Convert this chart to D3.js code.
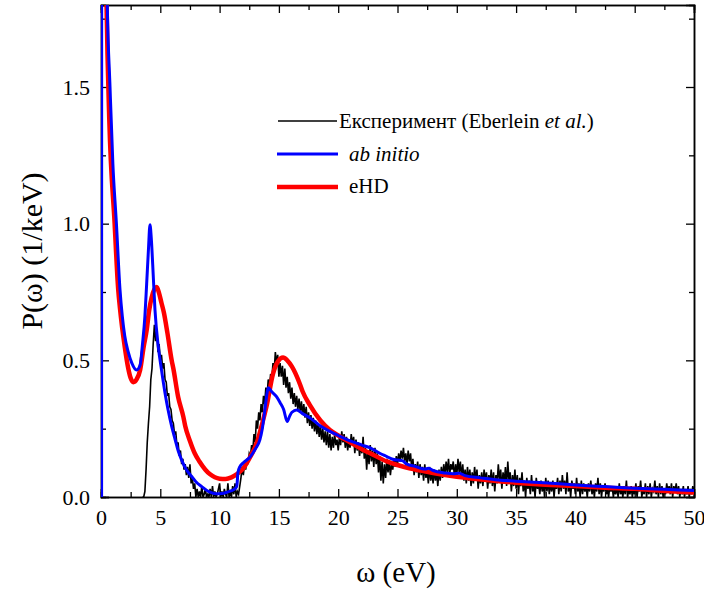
<!DOCTYPE html>
<html>
<head>
<meta charset="utf-8">
<script src="https://cdn.jsdelivr.net/npm/d3@7"></script>
</head>
<body style="margin:0">
<svg id="chart" width="704" height="590"></svg>
<script>
// ---------------- DATA ----------------
const xMajorTicks = [0, 5, 10, 15, 20, 25, 30, 35, 40, 45, 50];
const xMinorTicks = [2.5, 7.5, 12.5, 17.5, 22.5, 27.5, 32.5, 37.5, 42.5, 47.5];
const yMajorTicks = [0, 0.5, 1.0, 1.5];
const yMinorTicks = [0.25, 0.75, 1.25, 1.75];

const legendLabels = ["Експеримент (Eberlein ", "et al.", ")"];

// ab initio (blue) : energy (eV) and P (1/keV)
const abInitioOmega = [0.05, 0.06, 0.3, 0.53, 0.76, 1.0, 1.3, 1.6, 1.8, 2.0, 2.3, 2.6, 3.0, 3.3, 3.5, 3.7, 3.85, 4.0, 4.13, 4.25, 4.36, 4.55, 4.83, 5.1, 5.4, 5.65, 5.95, 6.25, 6.5, 6.8, 7.2, 7.65, 8.0, 8.5, 9.0, 9.3, 9.7, 10.2, 10.6, 11.0, 11.3, 11.45, 11.55, 11.7, 12.0, 12.6, 13.0, 13.4, 13.6, 13.85, 14.0, 14.1, 14.4, 14.8, 15.1, 15.4, 15.7, 15.9, 16.1, 16.5, 17.0, 17.6, 18.5, 19.3, 20.0, 21.0, 22.0, 22.7, 23.5, 24.1, 24.6, 25.0, 25.4, 25.8, 26.5, 27.3, 27.6, 28.0, 29.0, 29.7, 30.2, 30.7, 32.0, 33.5, 35.0, 36.5, 38.0, 40.0, 42.5, 45.0, 47.5, 50.0];
const abInitioP     = [0.0, 3.5, 2.6, 1.8, 1.5, 1.22, 1.0, 0.76, 0.66, 0.59, 0.53, 0.49, 0.465, 0.483, 0.56, 0.66, 0.78, 0.905, 0.996, 0.94, 0.85, 0.685, 0.55, 0.465, 0.38, 0.32, 0.26, 0.21, 0.17, 0.135, 0.1, 0.075, 0.056, 0.038, 0.022, 0.016, 0.012, 0.013, 0.017, 0.023, 0.03, 0.04, 0.09, 0.11, 0.125, 0.148, 0.175, 0.21, 0.25, 0.33, 0.38, 0.40, 0.385, 0.367, 0.345, 0.32, 0.276, 0.295, 0.31, 0.318, 0.305, 0.29, 0.26, 0.24, 0.225, 0.205, 0.19, 0.18, 0.16, 0.148, 0.138, 0.135, 0.133, 0.12, 0.112, 0.102, 0.105, 0.097, 0.088, 0.085, 0.087, 0.078, 0.07, 0.062, 0.058, 0.054, 0.05, 0.044, 0.038, 0.032, 0.028, 0.024];

// eHD (red)
const eHDOmega = [0.3, 0.45, 0.7, 1.15, 1.45, 1.6, 2.0, 2.3, 2.5, 2.73, 3.0, 3.3, 3.6, 3.85, 4.05, 4.27, 4.5, 4.7, 4.9, 5.1, 5.3, 5.6, 5.96, 6.1, 6.5, 6.94, 7.1, 7.5, 7.9, 8.3, 8.8, 9.2, 9.6, 10.0, 10.5, 11.0, 11.5, 12.0, 12.5, 13.15, 13.6, 14.0, 14.5, 14.9, 15.35, 15.7, 16.1, 16.8, 17.0, 17.6, 18.5, 19.3, 20.0, 21.0, 22.0, 22.7, 24.1, 25.0, 26.0, 27.5, 28.0, 30.0, 32.5, 35.0, 37.5, 40.0, 42.5, 45.0, 47.5, 50.0];
const eHDP     = [2.4, 1.85, 1.38, 1.0, 0.76, 0.69, 0.55, 0.47, 0.435, 0.42, 0.43, 0.465, 0.55, 0.61, 0.68, 0.73, 0.76, 0.768, 0.745, 0.71, 0.675, 0.6, 0.5, 0.47, 0.367, 0.294, 0.26, 0.205, 0.16, 0.13, 0.1, 0.083, 0.072, 0.067, 0.066, 0.072, 0.085, 0.105, 0.14, 0.2, 0.27, 0.34, 0.45, 0.495, 0.51, 0.5, 0.477, 0.41, 0.386, 0.337, 0.28, 0.245, 0.225, 0.2, 0.175, 0.16, 0.13, 0.117, 0.105, 0.092, 0.088, 0.074, 0.062, 0.052, 0.045, 0.04, 0.034, 0.03, 0.022, 0.016];

// Experiment (black), sampled every 0.1 eV from 3.5 eV to 50.0 eV
const expStart = 3.5, expStep = 0.1;
const expP = [
  0, 0, 0.02, 0.1, 0.2,
  0.27, 0.33, 0.43, 0.47, 0.56, 0.63, 0.57, 0.61, 0.53, 0.56,
  0.5, 0.52, 0.47, 0.49, 0.43, 0.42, 0.37, 0.38, 0.33, 0.32,
  0.28, 0.27, 0.23, 0.24, 0.19, 0.2, 0.15, 0.17, 0.12, 0.14,
  0.1, 0.12, 0.08, 0.11, 0.07, 0.12, 0.05, 0.07, 0.03, 0.05,
  0, 0.03, 0, 0.02, 0, 0.04, 0, 0.01, 0.03, 0,
  0.01, 0, 0.03, 0, 0.04, 0, 0.02, 0, 0.01, 0.03,
  0.05, 0, 0.02, 0, 0.03, 0.01, 0, 0.05, 0, 0.02,
  0, 0.04, 0.01, 0.05, 0, 0.02, 0.01, 0.04, 0.07, 0.11,
  0.08, 0.12, 0.1, 0.14, 0.12, 0.16, 0.15, 0.19, 0.17, 0.23,
  0.2, 0.28, 0.25, 0.31, 0.28, 0.34, 0.31, 0.37, 0.34, 0.4,
  0.37, 0.43, 0.4, 0.45, 0.43, 0.49, 0.46, 0.53, 0.49, 0.52,
  0.44, 0.49, 0.44, 0.48, 0.41, 0.47, 0.4, 0.44, 0.38, 0.42,
  0.36, 0.4, 0.34, 0.38, 0.33, 0.37, 0.32, 0.36, 0.31, 0.35,
  0.3, 0.34, 0.29, 0.33, 0.27, 0.31, 0.26, 0.3, 0.25, 0.29,
  0.24, 0.28, 0.23, 0.27, 0.22, 0.26, 0.21, 0.25, 0.2, 0.24,
  0.19, 0.24, 0.18, 0.23, 0.17, 0.22, 0.18, 0.23, 0.19, 0.21,
  0.17, 0.22, 0.19, 0.24, 0.2, 0.23, 0.18, 0.22, 0.17, 0.21,
  0.18, 0.23, 0.19, 0.22, 0.16, 0.21, 0.17, 0.2, 0.15, 0.19,
  0.16, 0.22, 0.14, 0.18, 0.1, 0.17, 0.12, 0.19, 0.13, 0.17,
  0.11, 0.18, 0.12, 0.16, 0.09, 0.15, 0.06, 0.13, 0.05, 0.12,
  0.07, 0.14, 0.09, 0.13, 0.08, 0.12, 0.1, 0.14, 0.11, 0.15,
  0.12, 0.16, 0.13, 0.17, 0.14, 0.18, 0.13, 0.16, 0.12, 0.17,
  0.13, 0.16, 0.1, 0.14, 0.08, 0.12, 0.09, 0.13, 0.07, 0.12,
  0.08, 0.11, 0.06, 0.12, 0.07, 0.1, 0.05, 0.11, 0.06, 0.09,
  0.05, 0.1, 0.06, 0.09, 0.04, 0.1, 0.06, 0.11, 0.07, 0.12,
  0.08, 0.13, 0.09, 0.14, 0.08, 0.12, 0.1, 0.13, 0.07, 0.12,
  0.08, 0.14, 0.09, 0.13, 0.07, 0.12, 0.06, 0.1, 0.05, 0.11,
  0.06, 0.1, 0.04, 0.09, 0.05, 0.11, 0.06, 0.1, 0.03, 0.08,
  0.05, 0.09, 0.04, 0.1, 0.06, 0.09, 0.03, 0.08, 0.05, 0.1,
  0.04, 0.09, 0.02, 0.08, 0.05, 0.12, 0.06, 0.1, 0.03, 0.09,
  0.05, 0.11, 0.04, 0.13, 0.06, 0.09, 0.02, 0.08, 0.04, 0.1,
  0.03, 0.08, 0.01, 0.07, 0.04, 0.09, 0.02, 0.06, 0.0, 0.07,
  0.03, 0.06, 0.01, 0.08, 0.02, 0.05, 0.0, 0.07, 0.03, 0.05,
  0.01, 0.06, 0.02, 0.05, 0.0, 0.07, 0.02, 0.06, 0.01, 0.05,
  0.02, 0.06, 0.0, 0.05, 0.03, 0.07, 0.01, 0.06, 0.02, 0.08,
  0.03, 0.06, 0.01, 0.09, 0.02, 0.05, 0.0, 0.06, 0.03, 0.05,
  0.01, 0.07, 0.02, 0.05, 0.0, 0.06, 0.01, 0.05, 0.02, 0.04,
  0.0, 0.05, 0.02, 0.06, 0.01, 0.04, 0.0, 0.05, 0.02, 0.07,
  0.01, 0.05, 0.0, 0.04, 0.02, 0.05, 0.01, 0.03, 0.0, 0.04,
  0.02, 0.04, 0.0, 0.03, 0.01, 0.04, 0.0, 0.05, 0.01, 0.03,
  0.0, 0.04, 0.01, 0.06, 0.0, 0.03, 0.01, 0.04, 0.0, 0.03,
  0.01, 0.05, 0.0, 0.04, 0.02, 0.06, 0.0, 0.03, 0.01, 0.05,
  0.0, 0.04, 0.01, 0.05, 0.0, 0.03, 0.02, 0.06, 0.01, 0.04,
  0.0, 0.05, 0.01, 0.04, 0.0, 0.03, 0.01, 0.05, 0.02, 0.04,
  0.01, 0.05, 0.0, 0.04, 0.02, 0.05, 0.01, 0.04, 0.0, 0.03,
  0.01, 0.04, 0.0, 0.03, 0.01, 0.04, 0.0, 0.03, 0.01, 0.04,
  0.02
];

// ---------------- CHART ----------------
const FONT = "'Liberation Serif', 'DejaVu Serif', serif";
const svg = d3.select("#chart");
const L = 101, R = 694, T = 5, B = 497;
const x = d3.scaleLinear().domain([0, 50]).range([L, R]);
const y = d3.scaleLinear().domain([0, 1.8]).range([B, T]);

// Text first: axis titles and legend
svg.append("text").attr("x", 396).attr("y", 582).attr("text-anchor", "middle")
  .style("font-family", FONT).style("font-size", "29px").text("ω (eV)");
svg.append("text").attr("transform", "translate(42,251) rotate(-90)").attr("text-anchor", "middle")
  .style("font-family", FONT).style("font-size", "30px").text("P(ω) (1/keV)");

const leg = svg.append("g");
const t1 = leg.append("text").attr("x", 339).attr("y", 128).style("font-family", FONT).style("font-size", "21px");
t1.append("tspan").text(legendLabels[0]);
t1.append("tspan").style("font-style", "italic").text(legendLabels[1]);
t1.append("tspan").text(legendLabels[2]);
leg.append("text").attr("x", 349).attr("y", 161).style("font-family", FONT).style("font-size", "21px").style("font-style", "italic").text("ab initio");
leg.append("text").attr("x", 349).attr("y", 193).style("font-family", FONT).style("font-size", "21px").text("eHD");
leg.append("line").attr("x1", 278).attr("x2", 337).attr("y1", 121).attr("y2", 121).attr("stroke", "#000").attr("stroke-width", 1.6);
leg.append("line").attr("x1", 277).attr("x2", 338).attr("y1", 154).attr("y2", 154).attr("stroke", "#0000ff").attr("stroke-width", 3);
leg.append("line").attr("x1", 277).attr("x2", 338).attr("y1", 187).attr("y2", 187).attr("stroke", "#ff0000").attr("stroke-width", 4.5);

// Axes
function styleAxis(g) {
  g.attr("font-family", null).attr("font-size", null);
  g.select(".domain").attr("stroke", "#000").attr("stroke-width", 1.5);
  g.selectAll(".tick line").attr("stroke", "#000").attr("stroke-width", 1.3);
  g.selectAll(".tick text").style("font-family", FONT).style("font-size", "22px").attr("fill", "#000");
}

svg.append("g").attr("transform", `translate(0,${B})`)
  .call(d3.axisBottom(x).tickValues(xMajorTicks).tickSize(-8).tickPadding(12).tickFormat(d3.format("d")))
  .call(styleAxis);
svg.append("g").attr("transform", `translate(0,${B})`)
  .call(d3.axisBottom(x).tickValues(xMinorTicks).tickSize(-5).tickFormat(""))
  .call(styleAxis);
svg.append("g").attr("transform", `translate(0,${T})`)
  .call(d3.axisTop(x).tickValues(xMajorTicks).tickSize(-8).tickFormat(""))
  .call(styleAxis);
svg.append("g").attr("transform", `translate(0,${T})`)
  .call(d3.axisTop(x).tickValues(xMinorTicks).tickSize(-5).tickFormat(""))
  .call(styleAxis);
svg.append("g").attr("transform", `translate(${L},0)`)
  .call(d3.axisLeft(y).tickValues(yMajorTicks).tickSize(-8).tickPadding(11).tickFormat(d3.format(".1f")))
  .call(styleAxis);
svg.append("g").attr("transform", `translate(${L},0)`)
  .call(d3.axisLeft(y).tickValues(yMinorTicks).tickSize(-5).tickFormat(""))
  .call(styleAxis);
svg.append("g").attr("transform", `translate(${R},0)`)
  .call(d3.axisRight(y).tickValues(yMajorTicks).tickSize(-8).tickFormat(""))
  .call(styleAxis);
svg.append("g").attr("transform", `translate(${R},0)`)
  .call(d3.axisRight(y).tickValues(yMinorTicks).tickSize(-5).tickFormat(""))
  .call(styleAxis);

// Curves
svg.append("clipPath").attr("id", "plotclip")
  .append("rect").attr("x", L).attr("y", T).attr("width", R - L).attr("height", B - T);
const plot = svg.append("g").attr("clip-path", "url(#plotclip)");

const expData = expP.map((v, i) => [expStart + i * expStep, v]);
const abData = abInitioOmega.map((w, i) => [w, abInitioP[i]]);
const ehdData = eHDOmega.map((w, i) => [w, eHDP[i]]);

const lineStraight = d3.line().x(d => x(d[0])).y(d => y(d[1]));
const lineSmooth = d3.line().x(d => x(d[0])).y(d => y(d[1])).curve(d3.curveMonotoneX);

plot.append("path").datum(expData).attr("d", lineStraight)
  .attr("fill", "none").attr("stroke", "#000").attr("stroke-width", 1.6).attr("stroke-linejoin", "miter");
plot.append("path").datum(ehdData).attr("d", lineSmooth)
  .attr("fill", "none").attr("stroke", "#ff0000").attr("stroke-width", 4.5).attr("stroke-linejoin", "round");
plot.append("path").datum(abData).attr("d", lineSmooth)
  .attr("fill", "none").attr("stroke", "#0000ff").attr("stroke-width", 3).attr("stroke-linejoin", "round");
</script>
</body>
</html>
